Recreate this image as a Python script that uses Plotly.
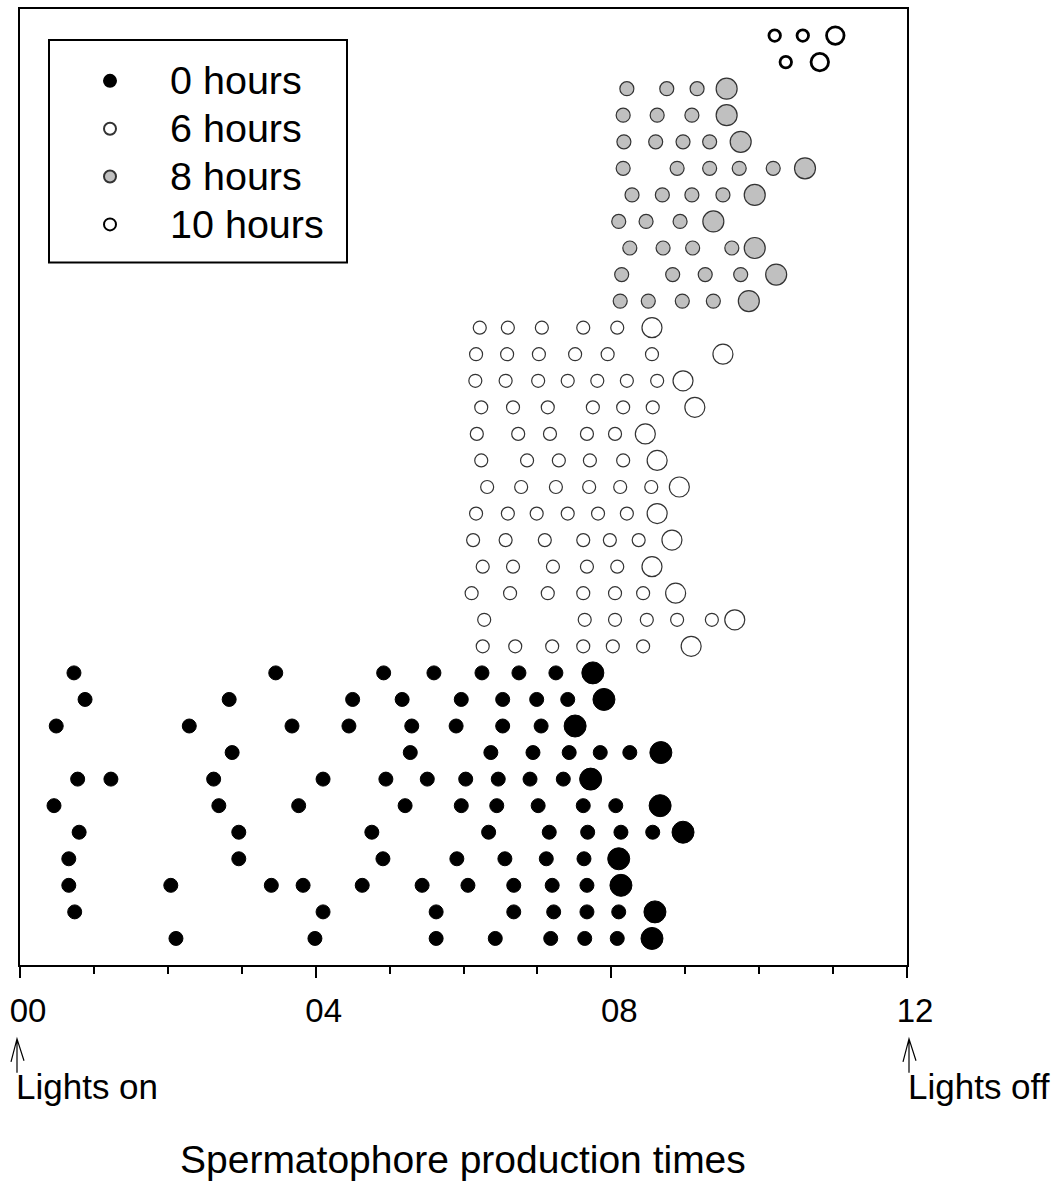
import plotly.graph_objects as go

# Spermatophore production times (hours after lights on), one list per male.
# Rows in each group are listed from the top row of the group to its bottom row.
times_10h = [
    [10.21, 10.59, 11.03],
    [10.36, 10.82],
]

times_8h = [
    [8.21, 8.75, 9.16, 9.56],
    [8.16, 8.62, 9.09, 9.56],
    [8.17, 8.60, 8.97, 9.33, 9.75],
    [8.16, 8.89, 9.33, 9.73, 10.19, 10.62],
    [8.28, 8.69, 9.09, 9.51, 9.94],
    [8.10, 8.47, 8.93, 9.38],
    [8.25, 8.70, 9.10, 9.63, 9.94],
    [8.14, 8.83, 9.27, 9.75, 10.23],
    [8.12, 8.50, 8.96, 9.38, 9.86],
]

times_6h = [
    [6.22, 6.60, 7.06, 7.62, 8.08, 8.55],
    [6.17, 6.59, 7.02, 7.51, 7.95, 8.55, 9.51],
    [6.16, 6.57, 7.01, 7.41, 7.81, 8.21, 8.62, 8.97],
    [6.24, 6.67, 7.14, 7.75, 8.16, 8.56, 9.13],
    [6.18, 6.74, 7.17, 7.67, 8.05, 8.46],
    [6.24, 6.86, 7.29, 7.71, 8.16, 8.62],
    [6.32, 6.78, 7.25, 7.70, 8.12, 8.54, 8.92],
    [6.17, 6.60, 6.99, 7.41, 7.82, 8.21, 8.62],
    [6.13, 6.57, 7.10, 7.62, 7.98, 8.37, 8.82],
    [6.26, 6.67, 7.21, 7.67, 8.08, 8.55],
    [6.11, 6.63, 7.14, 7.62, 8.05, 8.43, 8.87],
    [6.28, 7.64, 8.05, 8.48, 8.89, 9.36, 9.67],
    [6.26, 6.70, 7.20, 7.62, 8.02, 8.43, 9.08],
]

times_0h = [
    [0.73, 3.46, 4.92, 5.60, 6.25, 6.75, 7.25, 7.75],
    [0.88, 2.83, 4.50, 5.17, 5.97, 6.53, 6.99, 7.41, 7.90],
    [0.49, 2.29, 3.68, 4.45, 5.30, 5.90, 6.53, 7.05, 7.51],
    [2.87, 5.28, 6.37, 6.94, 7.43, 7.85, 8.25, 8.67],
    [0.78, 1.23, 2.62, 4.10, 4.95, 5.51, 6.03, 6.47, 6.90, 7.35, 7.72],
    [0.46, 2.69, 3.77, 5.21, 5.97, 6.45, 7.01, 7.62, 8.06, 8.66],
    [0.80, 2.96, 4.76, 6.34, 7.16, 7.68, 8.13, 8.56, 8.97],
    [0.66, 2.96, 4.91, 5.91, 6.56, 7.12, 7.63, 8.10],
    [0.66, 2.04, 3.40, 3.83, 4.63, 5.44, 6.06, 6.68, 7.20, 7.67, 8.13],
    [0.74, 4.10, 5.63, 6.68, 7.22, 7.67, 8.10, 8.59],
    [2.11, 3.99, 5.63, 6.43, 7.18, 7.64, 8.08, 8.55],
]

group_names = ["0 hours", "6 hours", "8 hours", "10 hours"]
group_rows = [times_0h, times_6h, times_8h, times_10h]

tick_vals = [0, 4, 8, 12]
tick_text = ["00", "04", "08", "12"]

styles = {
    "0 hours": dict(fill="black", line="black", lw=1, small=14, large=22),
    "6 hours": dict(fill="white", line="#333333", lw=1.2, small=13, large=20),
    "8 hours": dict(fill="#c0c0c0", line="#333333", lw=1.2, small=14, large=21),
    "10 hours": dict(fill="white", line="black", lw=2.8, small=11.5, large=17.5),
}

FONT = "Liberation Sans, Arial, sans-serif"

fig = go.Figure()
offset = 0
for name, rows in zip(group_names, group_rows):
    st = styles[name]
    xs, ys, sizes = [], [], []
    n = len(rows)
    for i, row in enumerate(rows):
        yv = offset + n - i
        for j, t in enumerate(row):
            xs.append(t)
            ys.append(yv)
            sizes.append(st["large"] if j == len(row) - 1 else st["small"])
    offset += n
    fig.add_trace(go.Scatter(
        x=xs, y=ys, mode="markers",
        name=f'<span style="font-size:39.5px">{name}</span>',
        legendgroup=name,
        marker=dict(size=sizes, color=st["fill"], opacity=1,
                    line=dict(color=st["line"], width=st["lw"])),
        cliponaxis=False,
        text=[f"{name}: {x:.2f} h" for x in xs], hoverinfo="text",
    ))

W, H = 1059, 1190
L, R, T, B = 20, 152, 7, 225
PW, PH = W - L - R, H - T - B


def px(xp):
    return (xp - L) / PW


def py(yp):
    return (H - B - yp) / PH


fig.update_layout(
    width=W, height=H,
    margin=dict(l=L, r=R, t=T, b=B),
    paper_bgcolor="white", plot_bgcolor="white",
    font=dict(family=FONT, color="black"),
    showlegend=True,
    legend=dict(
        x=px(50), y=py(50), xanchor="left", yanchor="top",
        borderwidth=0, bgcolor="rgba(0,0,0,0)",
        font=dict(size=34.5, family=FONT, color="black"),
        itemsizing="constant", tracegroupgap=0, itemwidth=110,
        traceorder="normal",
    ),
    xaxis=dict(
        range=[0, 12], showgrid=False, zeroline=False,
        showline=True, mirror=True, linecolor="black", linewidth=2,
        tickmode="array", tickvals=tick_vals, ticktext=tick_text,
        ticks="outside", ticklen=11, tickwidth=1.5, tickcolor="black",
        minor=dict(dtick=1, ticks="outside", ticklen=7, tickwidth=1.5,
                   tickcolor="black", showgrid=False),
        tickfont=dict(size=33, family=FONT, color="black"),
        ticklabelshift=8, ticklabelstandoff=4,
    ),
    yaxis=dict(
        range=[0, 36], showgrid=False, zeroline=False,
        showline=True, mirror=True, linecolor="black", linewidth=2,
        showticklabels=False, ticks="",
    ),
)

# legend frame
fig.add_shape(type="rect", xref="paper", yref="paper",
              x0=px(49), x1=px(347), y0=py(261), y1=py(38),
              line=dict(color="black", width=2), fillcolor="white",
              layer="below")

# "Lights on" / "Lights off" arrows and labels
for tip_x in (17, 909):
    path = (f"M {px(tip_x)},{py(1039)} L {px(tip_x)},{py(1073)} "
            f"M {px(tip_x - 6)},{py(1062)} L {px(tip_x)},{py(1039)} "
            f"L {px(tip_x + 7)},{py(1061)}")
    fig.add_shape(type="path", xref="paper", yref="paper", path=path,
                  line=dict(color="black", width=1.2))

fig.add_annotation(x=px(14), y=py(1100), xref="paper", yref="paper",
                   text="Lights on", showarrow=False, xanchor="left",
                   yanchor="bottom", yshift=-8,
                   font=dict(size=35, family=FONT, color="black"))
fig.add_annotation(x=px(906), y=py(1100), xref="paper", yref="paper",
                   text="Lights off", showarrow=False, xanchor="left",
                   yanchor="bottom", yshift=-8,
                   font=dict(size=35, family=FONT, color="black"))
fig.add_annotation(x=px(463), y=py(1160), xref="paper", yref="paper",
                   text="Spermatophore production times", showarrow=False,
                   xanchor="center", yanchor="middle",
                   font=dict(size=39, family=FONT, color="black"))

fig.write_html("out.html",
               config={"displayModeBar": False},
               post_script="document.body.style.margin='0px';")
